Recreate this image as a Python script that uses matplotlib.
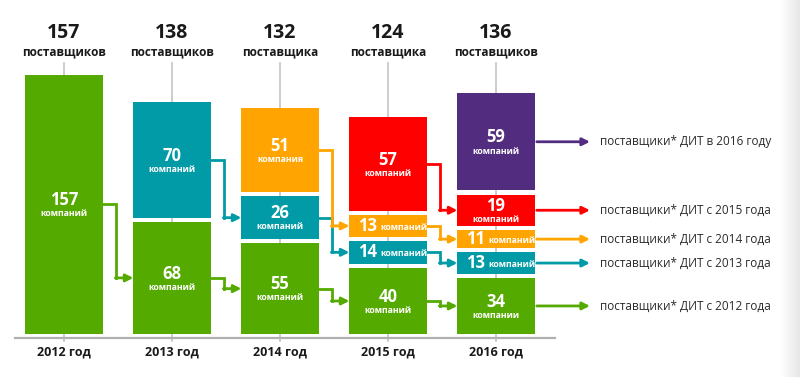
import matplotlib
matplotlib.use("Agg")
import matplotlib.pyplot as plt
import numpy as np

plt.rcParams['font.family'] = ['Open Sans', 'DejaVu Sans']

years = ["2012 год", "2013 год", "2014 год", "2015 год", "2016 год"]
totals = [157, 138, 132, 124, 136]
total_words = ["поставщиков", "поставщиков", "поставщика", "поставщика", "поставщиков"]

# cohorts, stacked bottom to top (0 = cohort not yet present)
cohort_names = ["с 2012 года", "с 2013 года", "с 2014 года", "с 2015 года", "в 2016 году"]
green_vals = [157, 68, 55, 40, 34]
teal_vals = [0, 70, 26, 14, 13]
orange_vals = [0, 0, 51, 13, 11]
red_vals = [0, 0, 0, 57, 19]
purple_vals = [0, 0, 0, 0, 59]

green_words = ["компаний", "компаний", "компаний", "компаний", "компании"]
teal_words = ["", "компаний", "компаний", "компаний", "компаний"]
orange_words = ["", "", "компания", "компаний", "компаний"]
red_words = ["", "", "", "компаний", "компаний"]
purple_words = ["", "", "", "", "компаний"]

colors = ["#55AA00", "#009BA6", "#FFA400", "#FF0000", "#512C7F"]
series = [green_vals, teal_vals, orange_vals, red_vals, purple_vals]
words = [green_words, teal_words, orange_words, red_words, purple_words]

fig = plt.figure(figsize=(8, 3.77), dpi=100)
ax = fig.add_axes([0, 0, 1, 1])
ax.axis('off')
# pixel-like mapping: x center = 64 + 108*i px ; 1 unit = 1.65 px, baseline at 334 px
ax.set_xlim(-64 / 108, (800 - 64) / 108)
ax.set_ylim(-(377 - 334) / 1.65, 334 / 1.65)

# right edge gradient
gax = fig.add_axes([0.975, 0, 0.025, 1])
gax.imshow(np.linspace(1.0, 0.9, 50)[None, :], cmap='gray', vmin=0, vmax=1,
           aspect='auto', extent=[0, 1, 0, 1])
gax.axis('off')

w = 0.715
gap = 2.5
n = len(years)
xs = np.arange(n)

# gray guide lines and baseline
for i in xs:
    ax.plot([i, i], [-4.5, 164.5], color='#c4c4c4', lw=1.2, zorder=0)
ax.plot([-0.455, 4.55], [-2.4, -2.4], color='#b0b0b0', lw=1.6, zorder=1)

mids = [[None] * n for _ in series]
for i in xs:
    bottom = 0.0
    for s, vals in enumerate(series):
        v = vals[i]
        if v <= 0:
            continue
        ax.bar(i, v, bottom=bottom, width=w, color=colors[s], zorder=2)
        mid = bottom + v / 2
        mids[s][i] = mid
        if v < 16:
            ax.text(i - 0.105, mid, str(v), ha='right', va='center', color='white',
                    fontsize=12, fontweight='bold', zorder=3)
            ax.text(i - 0.075, mid - 0.8, words[s][i], ha='left', va='center', color='white',
                    fontsize=6.3, fontweight='bold', zorder=3)
        else:
            ax.text(i, mid + 2.6, str(v), ha='center', va='center', color='white',
                    fontsize=12, fontweight='bold', zorder=3)
            ax.text(i, mid - 5.6, words[s][i], ha='center', va='center', color='white',
                    fontsize=6.3, fontweight='bold', zorder=3)
        bottom += v + gap

    ax.text(i, 182.4, str(totals[i]), ha='center', va='center', color='#1a1a1a',
            fontsize=14, fontweight='bold')
    ax.text(i, 171.0, total_words[i], ha='center', va='center', color='#1a1a1a',
            fontsize=8.5, fontweight='bold')
    ax.text(i, -10.9, years[i], ha='center', va='center', color='#1a1a1a',
            fontsize=9, fontweight='bold')

# elbow connectors between consecutive years
for s in range(len(series)):
    for i in range(n - 1):
        ys, yt = mids[s][i], mids[s][i + 1]
        if ys is None or yt is None:
            continue
        x0 = i + w / 2
        x1 = i + 1 - w / 2
        xm = x0 + 0.45 * (x1 - x0)
        ax.plot([x0, xm, xm], [ys, ys, yt], color=colors[s], lw=2, zorder=1.5,
                solid_joinstyle='miter')
        ax.annotate('', xy=(x1, yt), xytext=(xm - 0.01, yt),
                    arrowprops=dict(arrowstyle='-|>', color=colors[s], lw=2,
                                    mutation_scale=11, shrinkA=0, shrinkB=0),
                    zorder=1.5)

# final arrows and legend text for 2016
last = n - 1
for s in range(len(series)):
    yt = mids[s][last]
    if yt is None:
        continue
    ax.annotate('', xy=(4.87, yt), xytext=(last + w / 2 + 0.02, yt),
                arrowprops=dict(arrowstyle='-|>', color=colors[s], lw=2,
                                mutation_scale=11, shrinkA=0, shrinkB=0))
    ax.text(4.965, yt, "поставщики* ДИТ " + cohort_names[s], ha='left', va='center',
            color='#2a2a2a', fontsize=8.5)

fig.savefig("out.png", dpi=100)
